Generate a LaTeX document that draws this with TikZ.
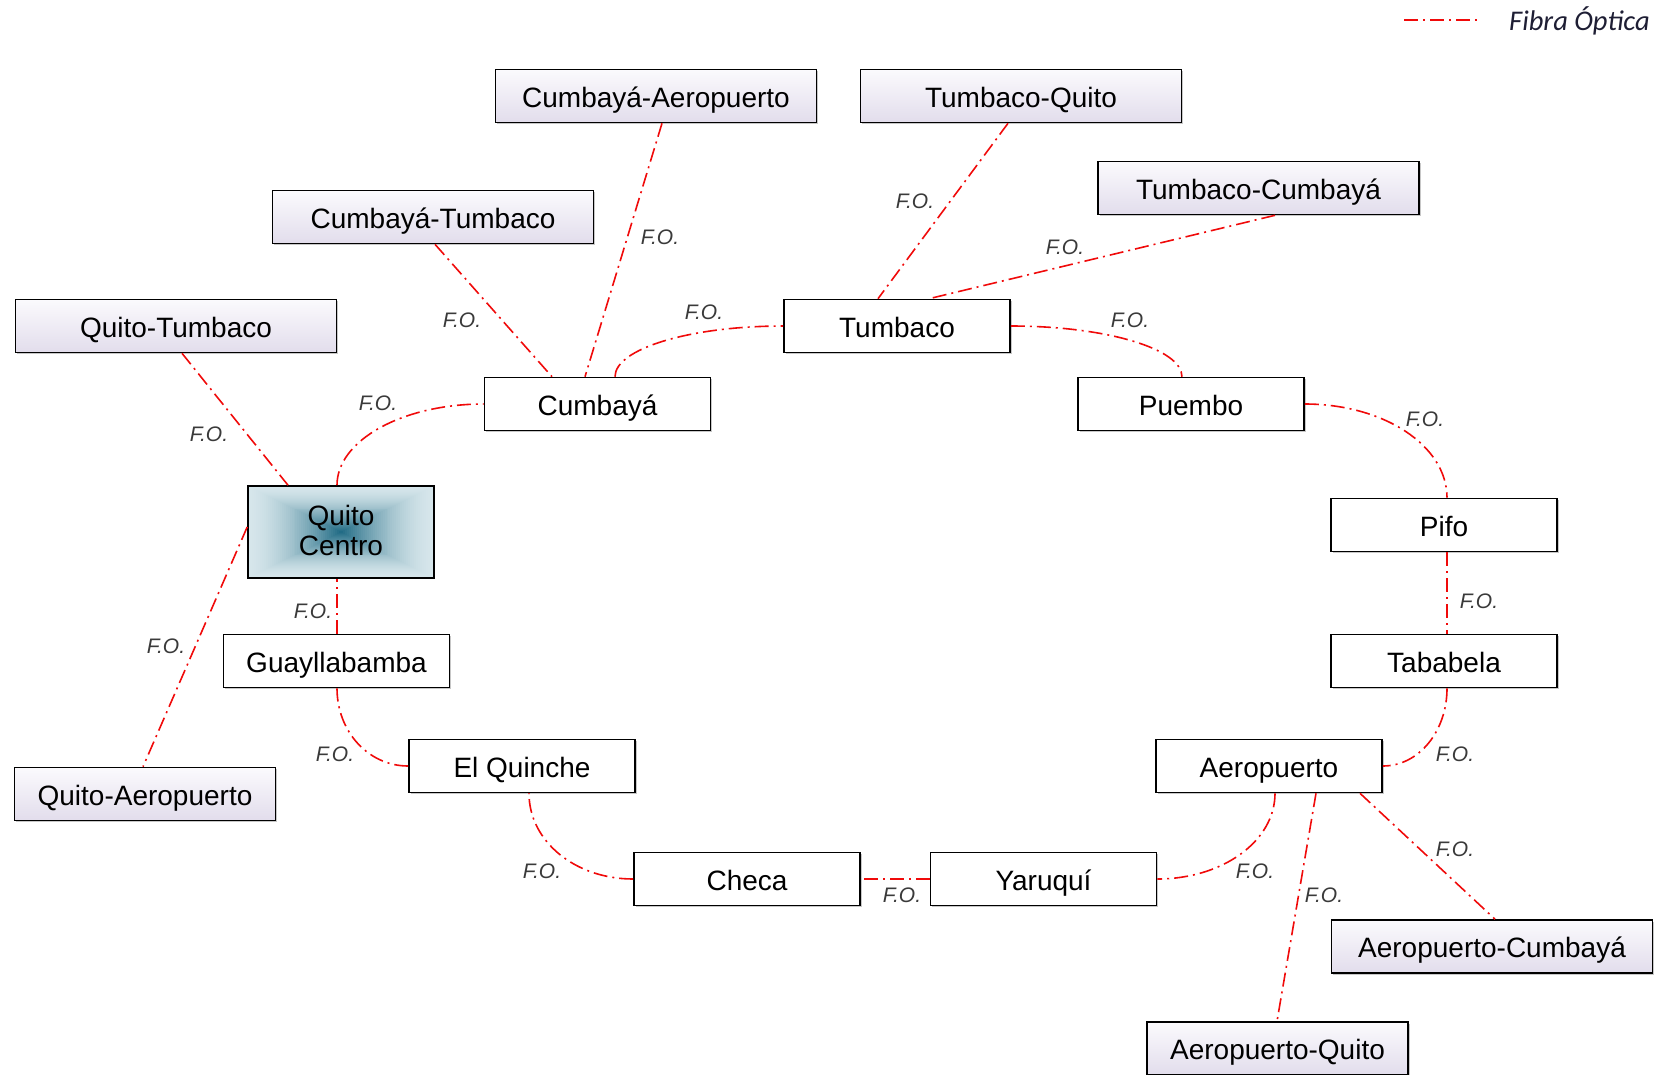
\documentclass[tikz,border=0pt]{standalone}
\usepackage{fontspec}
\setmainfont{Liberation Sans}
\newfontfamily\legendfont{Carlito}
\usetikzlibrary{shadows,backgrounds}

\definecolor{fored}{RGB}{240,10,10}
\definecolor{lavtop}{RGB}{251,250,253}
\definecolor{lavbot}{RGB}{226,221,236}
\definecolor{qccore}{RGB}{28,104,130}
\definecolor{qcedge}{RGB}{214,230,235}
\definecolor{fogray}{RGB}{58,58,58}
\definecolor{legtext}{RGB}{30,30,52}

\tikzset{
  box/.style={draw=black, line width=1.6pt, minimum width=226pt, minimum height=53pt,
    inner sep=0pt, font=\fontsize{28}{30}\selectfont, fill=white,
    text height=22pt, text depth=0pt,
    drop shadow={shadow xshift=1.5pt, shadow yshift=-1.5pt, fill=black, opacity=0.22}},
  widebox/.style={box, minimum width=321pt, top color=lavtop, bottom color=lavbot},
  qcbox/.style={draw=black, line width=1.6pt, minimum width=186pt, minimum height=92pt,
    inner sep=0pt, font=\fontsize{28}{30}\selectfont, align=center,
    text height=50pt, text depth=4pt},
  fo/.style={draw=fored, line width=1.6pt, dash pattern=on 14pt off 5pt on 2pt off 5pt},
  folabel/.style={font=\fontsize{21}{24}\selectfont\itshape, text=fogray, inner sep=0pt},
}

\begin{document}
\begin{tikzpicture}[x=1pt, y=-1pt]
  \useasboundingbox (0,0) rectangle (1662,1074);

  % legend
  \coordinate (lgA) at (1404,20);
  \coordinate (lgB) at (1480,20);
  \draw[fo] (lgA) -- (lgB);
  \node[anchor=west, inner sep=0pt, text=legtext, font=\legendfont\itshape\fontsize{28.5}{30}\selectfont]
    (legend) at (1509,21) {Fibra Óptica};

  % outer links
  \node[widebox] (cumaer) at (656,96) {Cumbayá-Aeropuerto};
  \node[widebox] (tumqui) at (1021,96) {Tumbaco-Quito};
  \node[widebox] (tumcum) at (1258.5,188) {Tumbaco-Cumbayá};
  \node[widebox] (cumtum) at (433,217) {Cumbayá-Tumbaco};
  \node[widebox] (quitum) at (176,326) {Quito-Tumbaco};
  \node[widebox, minimum width=261pt] (quiaer) at (145,794) {Quito-Aeropuerto};
  \node[widebox] (aercum) at (1492,946.5) {Aeropuerto-Cumbayá};
  \node[widebox, minimum width=261pt] (aerqui) at (1277.5,1048.5) {Aeropuerto-Quito};

  % ring
  \node[qcbox] (qc) at (341,532) {Quito\\Centro};
  \node[box] (cumbaya) at (597.5,404) {Cumbayá};
  \node[box] (tumbaco) at (897,326) {Tumbaco};
  \node[box] (puembo) at (1191,404) {Puembo};
  \node[box] (pifo) at (1444,525) {Pifo};
  \node[box] (tababela) at (1444,661) {Tababela};
  \node[box] (aeropuerto) at (1269,766) {Aeropuerto};
  \node[box] (yaruqui) at (1043.5,879) {Yaruquí};
  \node[box] (checa) at (747,879) {Checa};
  \node[box] (quinche) at (522,766) {El Quinche};
  \node[box] (guay) at (336.5,661) {Guayllabamba};

  % Quito Centro fill: rectangular gradient, dark in the middle, light at the border
  \begin{scope}[on background layer]
    \foreach \i in {0,...,46} {
      \pgfmathsetmacro\qcf{1-\i/47}
      \pgfmathsetmacro\qcp{100*(1-\qcf)^1.6}
      \fill[qccore!\qcp!qcedge, shift={(qc.center)}, xscale=\qcf, yscale=\qcf]
        (-93,-46) rectangle (93,46);
    }
  \end{scope}

  % ring fibre (quarter-ellipse bends)
  \draw[fo] (337,0 |- qc.north) .. controls +(0,-45) and +(-81,0) .. (cumbaya.west);
  \draw[fo] (615,0 |- cumbaya.north) .. controls +(0,-28) and +(-93,0) .. (tumbaco.west);
  \draw[fo] (tumbaco.east) .. controls +(95,0) and +(0,-28) .. (1182,0 |- puembo.north);
  \draw[fo] (puembo.east) .. controls +(79,0) and +(0,-52) .. (1447,0 |- pifo.north);
  \draw[fo] (1447,0 |- pifo.south) -- (1447,0 |- tababela.north);
  \draw[fo] (1447,0 |- tababela.south) .. controls +(0,43) and +(36,0) .. (aeropuerto.east);
  \draw[fo] (1275,0 |- aeropuerto.south) .. controls +(0,48) and +(65,0) .. (yaruqui.east);
  \draw[fo] (yaruqui.west) -- (checa.east);
  \draw[fo] (checa.west) .. controls +(-58,0) and +(0,48) .. (529,0 |- quinche.south);
  \draw[fo] (quinche.west) .. controls +(-40,0) and +(0,43) .. (337,0 |- guay.south);
  \draw[fo] (337,0 |- guay.north) -- (337,0 |- qc.south);

  % spur fibre
  \draw[fo] (182,0 |- quitum.south) -- (288,0 |- qc.north);
  \draw[fo] (435,0 |- cumtum.south) -- (552,0 |- cumbaya.north);
  \draw[fo] (662,0 |- cumaer.south) -- (585,0 |- cumbaya.north);
  \draw[fo] (1008,0 |- tumqui.south) -- (878,0 |- tumbaco.north);
  \draw[fo] (1275,0 |- tumcum.south) -- (929,0 |- tumbaco.north);
  \draw[fo] (qc.west |- 0,527) -- (143,0 |- quiaer.north);
  \draw[fo] (1316,0 |- aeropuerto.south) -- (1277,0 |- aerqui.north);
  \draw[fo] (1360,0 |- aeropuerto.south) -- (1495,0 |- aercum.north);

  % link labels
  \node[folabel] (l01) at (660,237) {F.O.};
  \node[folabel] (l02) at (915,201) {F.O.};
  \node[folabel] (l03) at (1065,247) {F.O.};
  \node[folabel] (l04) at (462,320) {F.O.};
  \node[folabel] (l05) at (704,312) {F.O.};
  \node[folabel] (l06) at (1130,320) {F.O.};
  \node[folabel] (l07) at (378,403) {F.O.};
  \node[folabel] (l08) at (209,434) {F.O.};
  \node[folabel] (l09) at (1425,419) {F.O.};
  \node[folabel] (l10) at (1479,601) {F.O.};
  \node[folabel] (l11) at (313,611) {F.O.};
  \node[folabel] (l12) at (166,646) {F.O.};
  \node[folabel] (l13) at (335,754) {F.O.};
  \node[folabel] (l14) at (1455,754) {F.O.};
  \node[folabel] (l15) at (542,871) {F.O.};
  \node[folabel] (l16) at (902,895) {F.O.};
  \node[folabel] (l17) at (1255,871) {F.O.};
  \node[folabel] (l18) at (1324,895) {F.O.};
  \node[folabel] (l19) at (1455,849) {F.O.};
\end{tikzpicture}
\end{document}
